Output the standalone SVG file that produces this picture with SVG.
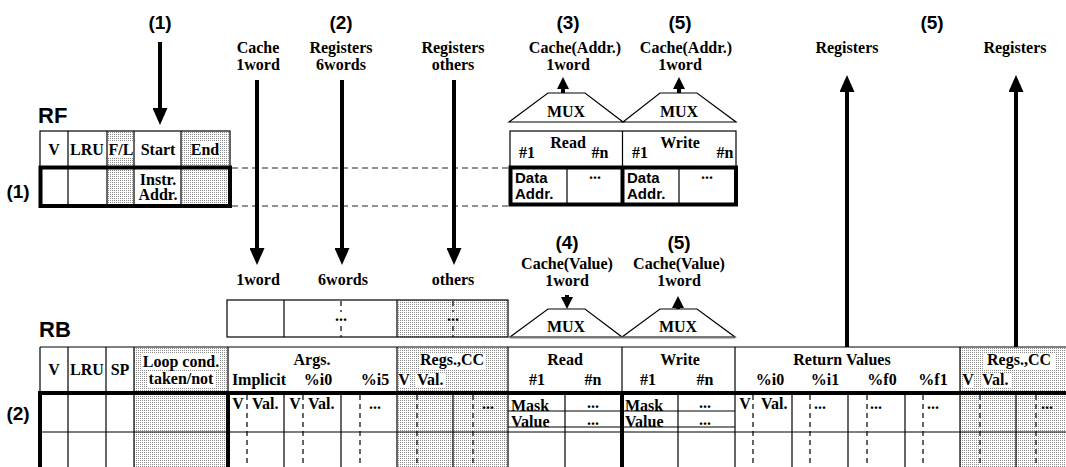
<svg xmlns="http://www.w3.org/2000/svg" width="1066" height="467" viewBox="0 0 1066 467">
  <defs>
    <pattern id="dots" width="2" height="2" patternUnits="userSpaceOnUse">
      <rect width="2" height="2" fill="#fff"/>
      <rect width="1" height="1" fill="#8c8c8c"/>
    </pattern>
    <marker id="head" markerUnits="userSpaceOnUse" markerWidth="17" markerHeight="15" refX="0" refY="7.5" orient="auto">
      <path d="M0,0 L17,7.5 L0,15 z" fill="#000"/>
    </marker>
    <marker id="head-s" markerUnits="userSpaceOnUse" markerWidth="12" markerHeight="12" refX="0" refY="6" orient="auto">
      <path d="M0,0 L12,6 L0,12 z" fill="#000"/>
    </marker>
    <style>
      .t { font-family: "Liberation Serif", "Times New Roman", serif; font-weight: bold; font-size: 16px; fill: #000; }
      .m { text-anchor: middle; }
      .s { font-family: "Liberation Sans", Arial, sans-serif; font-weight: bold; font-size: 19px; fill: #000; }
      .big { font-size: 22px; }
      .sm { font-family: "Liberation Sans", Arial, sans-serif; font-weight: bold; font-size: 15px; fill: #000; }
      .thin { stroke: #000; stroke-width: 1.2; fill: none; }
      .thick { stroke: #000; stroke-width: 4; fill: none; }
      .dash { stroke: #000; stroke-width: 1.2; stroke-dasharray: 5 4; fill: none; }
      .link { stroke: #222; stroke-width: 1; stroke-dasharray: 6 4; fill: none; }
      .dots { fill: url(#dots); stroke: none; }
      .bg { fill: #fff; stroke: none; }
      .mux { fill: #fff; stroke: #000; stroke-width: 1.2; }
      .arrow { stroke: #000; stroke-width: 4; fill: none; }
    </style>
  </defs>

  <rect width="1066" height="467" fill="#fff"/>

  <!-- step numbers and source/destination labels -->
  <g id="labels">
    <text class="s m" x="160" y="29">(1)</text>
    <text class="s m" x="341" y="29">(2)</text>
    <text class="s m" x="568" y="29">(3)</text>
    <text class="s m" x="680" y="29">(5)</text>
    <text class="s m" x="932" y="29">(5)</text>

    <text class="t m" x="258" y="53">Cache</text>
    <text class="t m" x="258" y="70">1word</text>
    <text class="t m" x="341" y="53">Registers</text>
    <text class="t m" x="341" y="70">6words</text>
    <text class="t m" x="453" y="53">Registers</text>
    <text class="t m" x="453" y="70">others</text>
    <text class="t m" x="575" y="53">Cache(Addr.)</text>
    <text class="t m" x="568" y="70">1word</text>
    <text class="t m" x="686" y="53">Cache(Addr.)</text>
    <text class="t m" x="680" y="70">1word</text>
    <text class="t m" x="847" y="53">Registers</text>
    <text class="t m" x="1015" y="53">Registers</text>

    <text class="t m" x="258" y="285">1word</text>
    <text class="t m" x="343" y="285">6words</text>
    <text class="t m" x="453" y="285">others</text>

    <text class="s m" x="567" y="249">(4)</text>
    <text class="s m" x="679" y="249">(5)</text>
    <text class="t m" x="567" y="269">Cache(Value)</text>
    <text class="t m" x="567" y="286">1word</text>
    <text class="t m" x="679" y="269">Cache(Value)</text>
    <text class="t m" x="679" y="286">1word</text>

    <text class="s big" x="38" y="123">RF</text>
    <text class="s big" x="39" y="337">RB</text>
    <text class="s m" x="18" y="198">(1)</text>
    <text class="s m" x="18" y="420">(2)</text>
  </g>

  <!-- RF: instruction range table -->
  <g id="rf-table">
    <rect class="dots" x="107" y="131" width="27" height="75"/>
    <rect class="dots" x="181" y="131" width="49" height="75"/>
    <rect class="bg" x="108" y="142" width="26" height="16"/>
    <rect class="bg" x="191" y="142" width="28" height="16"/>
    <rect class="thin" x="40" y="131" width="190" height="36"/>
    <line class="thin" x1="68" y1="131" x2="68" y2="206"/>
    <line class="thin" x1="107" y1="131" x2="107" y2="206"/>
    <line class="thin" x1="134" y1="131" x2="134" y2="206"/>
    <line class="thin" x1="181" y1="131" x2="181" y2="206"/>
    <rect class="thick" x="40.5" y="167.5" width="189.5" height="38.5"/>
    <text class="t m" x="54" y="155">V</text>
    <text class="t m" x="87" y="155">LRU</text>
    <text class="t m" x="121" y="155">F/L</text>
    <text class="t m" x="158" y="155">Start</text>
    <text class="t m" x="205" y="155">End</text>
    <text class="t m" x="158" y="185">Instr.</text>
    <text class="t m" x="158" y="200">Addr.</text>
  </g>

  <!-- RF: data address read/write table -->
  <g id="rf-data">
    <rect class="thin" x="510" y="131" width="226" height="36"/>
    <line class="thin" x1="622.5" y1="131" x2="622.5" y2="167"/>
    <line class="thin" x1="567" y1="167" x2="567" y2="205"/>
    <line class="thin" x1="679" y1="167" x2="679" y2="205"/>
    <rect class="thick" x="510.5" y="167.5" width="225.5" height="37"/>
    <line class="thick" x1="622.5" y1="167" x2="622.5" y2="205"/>
    <text class="t m" x="527" y="158">#1</text>
    <text class="t m" x="568" y="148">Read</text>
    <text class="t m" x="600" y="158">#n</text>
    <text class="t m" x="640" y="158">#1</text>
    <text class="t m" x="680" y="148">Write</text>
    <text class="t m" x="725" y="158">#n</text>
    <text class="sm" x="515" y="183">Data</text>
    <text class="sm" x="515" y="199">Addr.</text>
    <text class="t m" x="595" y="179">...</text>
    <text class="sm" x="627" y="183">Data</text>
    <text class="sm" x="627" y="199">Addr.</text>
    <text class="t m" x="707" y="179">...</text>
  </g>

  <g id="mux-rf-read">
    <polygon class="mux" points="509,122 548,93 585,93 623,122"/>
    <text class="t m" x="566" y="117">MUX</text>
  </g>
  <g id="mux-rf-write">
    <polygon class="mux" points="623,122 660,93 697,93 736,122"/>
    <text class="t m" x="679" y="117">MUX</text>
  </g>

  <!-- register buffer: incoming words -->
  <g id="reg-buffer">
    <rect class="dots" x="397" y="300" width="111" height="37"/>
    <rect class="thin" x="227" y="300" width="281" height="37"/>
    <line class="thin" x1="284" y1="300" x2="284" y2="337"/>
    <line class="thin" x1="397" y1="300" x2="397" y2="337"/>
    <line class="dash" x1="341" y1="301" x2="341" y2="312"/>
    <line class="dash" x1="341" y1="326" x2="341" y2="337"/>
    <line class="dash" x1="453" y1="301" x2="453" y2="312"/>
    <line class="dash" x1="453" y1="326" x2="453" y2="337"/>
    <text class="t m" x="341" y="321">...</text>
    <text class="t m" x="453" y="321">...</text>
  </g>

  <g id="mux-rb-read">
    <polygon class="mux" points="510,337 548,309 585,309 622,337"/>
    <text class="t m" x="566" y="332">MUX</text>
  </g>
  <g id="mux-rb-write">
    <polygon class="mux" points="622,337 660,309 697,309 735,337"/>
    <text class="t m" x="678" y="332">MUX</text>
  </g>
  <line x1="510" y1="337.5" x2="735" y2="337.5" stroke="#777" stroke-width="2"/>

  <!-- RB: return buffer table -->
  <g id="rb-table">
    <rect class="dots" x="134" y="347" width="94" height="120"/>
    <rect class="dots" x="397" y="347" width="111" height="120"/>
    <rect class="dots" x="960" y="347" width="106" height="120"/>
    <rect class="bg" x="142" y="354" width="78" height="16"/>
    <rect class="bg" x="148" y="372" width="67" height="15"/>
    <rect class="bg" x="420" y="353" width="65" height="16"/>
    <rect class="bg" x="399" y="373" width="10" height="15"/>
    <rect class="bg" x="416" y="373" width="30" height="15"/>
    <rect class="bg" x="983" y="353" width="72" height="16"/>
    <rect class="bg" x="963" y="373" width="10" height="15"/>
    <rect class="bg" x="981" y="373" width="30" height="15"/>

    <!-- header grid -->
    <line class="thin" x1="40" y1="347" x2="1066" y2="347"/>
    <line class="thin" x1="40" y1="347" x2="40" y2="393"/>
    <line class="thin" x1="68" y1="347" x2="68" y2="467"/>
    <line class="thin" x1="106" y1="347" x2="106" y2="467"/>
    <line class="thin" x1="134" y1="347" x2="134" y2="467"/>
    <line class="thin" x1="228" y1="347" x2="228" y2="393"/>
    <line class="thin" x1="397" y1="347" x2="397" y2="467"/>
    <line class="thin" x1="508" y1="347" x2="508" y2="467"/>
    <line class="thin" x1="622" y1="347" x2="622" y2="393"/>
    <line class="thin" x1="735" y1="347" x2="735" y2="467"/>
    <line class="thin" x1="960" y1="347" x2="960" y2="467"/>

    <!-- body grid -->
    <line class="thin" x1="40" y1="432" x2="1066" y2="432"/>
    <line class="thin" x1="284" y1="393" x2="284" y2="467"/>
    <line class="thin" x1="341" y1="393" x2="341" y2="467"/>
    <line class="thin" x1="453" y1="393" x2="453" y2="467"/>
    <line class="thin" x1="565" y1="393" x2="565" y2="467"/>
    <line class="thin" x1="678" y1="393" x2="678" y2="467"/>
    <line class="thin" x1="792" y1="393" x2="792" y2="467"/>
    <line class="thin" x1="848" y1="393" x2="848" y2="467"/>
    <line class="thin" x1="905" y1="393" x2="905" y2="467"/>
    <line class="thin" x1="1016" y1="393" x2="1016" y2="467"/>
    <line class="thin" x1="508" y1="411" x2="735" y2="411"/>
    <line class="thin" x1="508" y1="427" x2="735" y2="427"/>
    <line class="dash" x1="247" y1="395" x2="247" y2="467"/>
    <line class="dash" x1="303" y1="395" x2="303" y2="467"/>
    <line class="dash" x1="360" y1="395" x2="360" y2="467"/>
    <line class="dash" x1="417" y1="395" x2="417" y2="467"/>
    <line class="dash" x1="473" y1="395" x2="473" y2="467"/>
    <line class="dash" x1="753" y1="395" x2="753" y2="467"/>
    <line class="dash" x1="810" y1="395" x2="810" y2="467"/>
    <line class="dash" x1="867" y1="395" x2="867" y2="467"/>
    <line class="dash" x1="923" y1="395" x2="923" y2="467"/>
    <line class="dash" x1="980" y1="395" x2="980" y2="467"/>
    <line class="dash" x1="1036" y1="395" x2="1036" y2="467"/>

    <!-- heavy rules -->
    <line class="thick" x1="38" y1="393" x2="1066" y2="393"/>
    <line class="thick" x1="40" y1="391" x2="40" y2="467"/>
    <line class="thick" x1="228" y1="391" x2="228" y2="467"/>
    <line class="thick" x1="622" y1="391" x2="622" y2="467"/>

    <!-- header text -->
    <text class="t m" x="54" y="375">V</text>
    <text class="t m" x="87" y="375">LRU</text>
    <text class="t m" x="120" y="375">SP</text>
    <text class="t m" x="181" y="367">Loop cond.</text>
    <text class="t m" x="181" y="384">taken/not</text>
    <text class="t m" x="312" y="365">Args.</text>
    <text class="t m" x="259" y="385">Implicit</text>
    <text class="t m" x="318" y="385">%i0</text>
    <text class="t m" x="375" y="385">%i5</text>
    <text class="t m" x="452" y="365">Regs.,CC</text>
    <text class="t m" x="404" y="385">V</text>
    <text class="t" x="417" y="385">Val.</text>
    <text class="t m" x="565" y="365">Read</text>
    <text class="t m" x="537" y="385">#1</text>
    <text class="t m" x="593" y="385">#n</text>
    <text class="t m" x="680" y="365">Write</text>
    <text class="t m" x="648" y="385">#1</text>
    <text class="t m" x="705" y="385">#n</text>
    <text class="t m" x="842" y="365">Return Values</text>
    <text class="t m" x="770" y="385">%i0</text>
    <text class="t m" x="825" y="385">%i1</text>
    <text class="t m" x="882" y="385">%f0</text>
    <text class="t m" x="933" y="385">%f1</text>
    <text class="t m" x="1019" y="365">Regs.,CC</text>
    <text class="t m" x="968" y="385">V</text>
    <text class="t" x="982" y="385">Val.</text>

    <!-- first entry -->
    <text class="t m" x="238" y="409">V</text>
    <text class="t" x="252" y="409">Val.</text>
    <text class="t m" x="295" y="409">V</text>
    <text class="t" x="308" y="409">Val.</text>
    <text class="t m" x="375" y="409">...</text>
    <text class="t m" x="488" y="409">...</text>
    <text class="t" x="511" y="411">Mask</text>
    <text class="t m" x="593" y="408">...</text>
    <text class="t" x="511" y="427">Value</text>
    <text class="t m" x="593" y="425">...</text>
    <text class="t" x="625" y="411">Mask</text>
    <text class="t m" x="705" y="408">...</text>
    <text class="t" x="625" y="427">Value</text>
    <text class="t m" x="705" y="425">...</text>
    <text class="t m" x="745" y="409">V</text>
    <text class="t" x="761" y="409">Val.</text>
    <text class="t m" x="820" y="409">...</text>
    <text class="t m" x="876" y="409">...</text>
    <text class="t m" x="933" y="409">...</text>
    <text class="t m" x="1047" y="409">...</text>
  </g>

  <!-- dashed projection of the RF entry row, and data-flow arrows -->
  <g id="connectors">
    <line class="link" x1="232" y1="168" x2="510" y2="168"/>
    <line class="link" x1="232" y1="206" x2="510" y2="206"/>

    <line class="arrow" x1="160" y1="42" x2="160" y2="108" marker-end="url(#head)"/>
    <line class="arrow" x1="257" y1="80" x2="257" y2="248" marker-end="url(#head)"/>
    <line class="arrow" x1="342" y1="80" x2="342" y2="248" marker-end="url(#head)"/>
    <line class="arrow" x1="454" y1="80" x2="454" y2="248" marker-end="url(#head)"/>
    <line class="arrow" x1="847" y1="347" x2="847" y2="92" marker-end="url(#head)"/>
    <line class="arrow" x1="1016" y1="347" x2="1016" y2="92" marker-end="url(#head)"/>

    <line class="arrow" x1="563" y1="93" x2="563" y2="89" marker-end="url(#head-s)"/>
    <line class="arrow" x1="679" y1="93" x2="679" y2="89" marker-end="url(#head-s)"/>
    <line class="arrow" x1="567" y1="295" x2="567" y2="297" marker-end="url(#head-s)"/>
    <line class="arrow" x1="678" y1="309" x2="678" y2="308" marker-end="url(#head-s)"/>
  </g>
</svg>
